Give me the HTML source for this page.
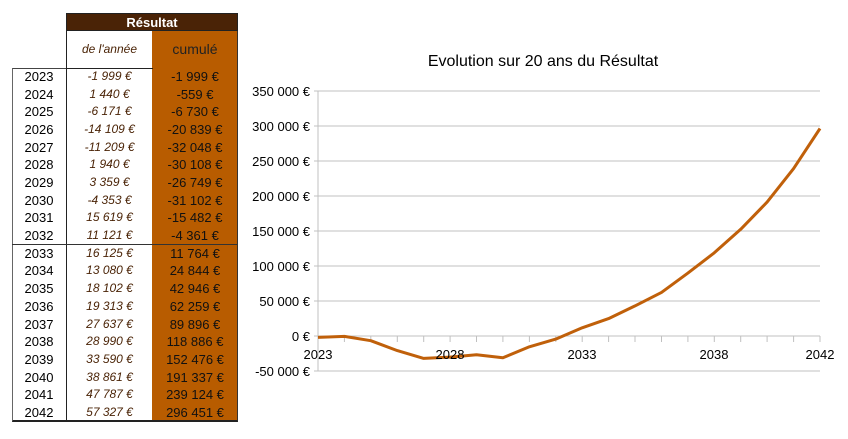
<!DOCTYPE html>
<html><head><meta charset="utf-8"><style>
body{margin:0;width:848px;height:439px;background:#fff;font-family:"Liberation Sans",sans-serif;position:relative;overflow:hidden}
.a{position:absolute}
.r{position:absolute;height:17.68px;line-height:17.68px;font-size:13px}
</style></head><body>
<div class="a" style="left:66px;top:13px;width:172px;height:18px;background:#4a2306;border:1px solid #222;box-sizing:border-box;color:#fff;font-weight:bold;font-size:13px;text-align:center;line-height:17px">Résultat</div>
<div class="a" style="left:66px;top:31px;width:87px;height:391px;border-left:1px solid #222;border-right:1px solid #222;border-bottom:2px solid #222;box-sizing:border-box"></div>
<div class="a" style="left:152px;top:31px;width:86px;height:391px;background:#b85c00;border-right:1px solid #333;border-bottom:2px solid #222;box-sizing:border-box"></div>
<div class="a" style="left:12px;top:68px;width:55px;height:354px;border-left:1px solid #666;border-top:1px solid #444;border-bottom:2px solid #222;box-sizing:border-box"></div>
<div class="a" style="left:12px;top:244px;width:226px;height:1px;background:#333"></div>
<div class="a" style="left:66px;top:68px;width:87px;height:1px;background:#222"></div>
<div class="a" style="left:66px;top:31px;width:87px;height:37px;line-height:37px;text-align:center;font-style:italic;font-size:12px;color:#4a2306">de l'année</div>
<div class="a" style="left:152px;top:31px;width:86px;height:37px;line-height:37px;text-align:center;font-size:14px;color:#222">cumulé</div>
<div id="rows"></div>
<svg class="a" style="left:0;top:0" width="848" height="439">
<text x="543" y="66" font-size="16" text-anchor="middle" fill="#000" font-family="Liberation Sans">Evolution sur 20 ans du Résultat</text>
<g stroke="#c0c0c0" stroke-width="1">
<line x1="314" y1="91" x2="820" y2="91"/><line x1="314" y1="126" x2="820" y2="126"/><line x1="314" y1="161" x2="820" y2="161"/><line x1="314" y1="196" x2="820" y2="196"/><line x1="314" y1="231" x2="820" y2="231"/><line x1="314" y1="266" x2="820" y2="266"/><line x1="314" y1="301" x2="820" y2="301"/><line x1="314" y1="336" x2="820" y2="336"/><line x1="314" y1="371" x2="820" y2="371"/>
<line x1="318" y1="91" x2="318" y2="371"/>
</g>
<g stroke="#c0c0c0"><line x1="344.4" y1="336" x2="344.4" y2="342"/><line x1="370.8" y1="336" x2="370.8" y2="342"/><line x1="397.3" y1="336" x2="397.3" y2="342"/><line x1="423.7" y1="336" x2="423.7" y2="342"/><line x1="450.1" y1="336" x2="450.1" y2="342"/><line x1="476.5" y1="336" x2="476.5" y2="342"/><line x1="502.9" y1="336" x2="502.9" y2="342"/><line x1="529.4" y1="336" x2="529.4" y2="342"/><line x1="555.8" y1="336" x2="555.8" y2="342"/><line x1="582.2" y1="336" x2="582.2" y2="342"/><line x1="608.6" y1="336" x2="608.6" y2="342"/><line x1="635" y1="336" x2="635" y2="342"/><line x1="661.5" y1="336" x2="661.5" y2="342"/><line x1="687.9" y1="336" x2="687.9" y2="342"/><line x1="714.3" y1="336" x2="714.3" y2="342"/><line x1="740.7" y1="336" x2="740.7" y2="342"/><line x1="767.1" y1="336" x2="767.1" y2="342"/><line x1="793.6" y1="336" x2="793.6" y2="342"/><line x1="820" y1="336" x2="820" y2="342"/></g>
<g font-size="13" fill="#000" text-anchor="end" font-family="Liberation Sans">
<text x="310" y="96">350 000 €</text><text x="310" y="131">300 000 €</text><text x="310" y="166">250 000 €</text><text x="310" y="201">200 000 €</text><text x="310" y="236">150 000 €</text><text x="310" y="271">100 000 €</text><text x="310" y="306">50 000 €</text><text x="310" y="341">0 €</text><text x="310" y="376">-50 000 €</text>
</g>
<polyline fill="none" stroke="#c0600a" stroke-width="3" stroke-linejoin="round" points="318,337.4 344.4,336.4 370.8,340.7 397.3,350.6 423.7,358.4 450.1,357.1 476.5,354.7 502.9,357.8 529.4,346.8 555.8,339.1 582.2,327.8 608.6,318.6 635,305.9 661.5,292.4 687.9,273.1 714.3,252.8 740.7,229.3 767.1,202.1 793.6,168.6 820,128.5"/>
<g font-size="13" fill="#000" text-anchor="middle" font-family="Liberation Sans">
<text x="318" y="359">2023</text><text x="450" y="359">2028</text><text x="582" y="359">2033</text><text x="714" y="359">2038</text><text x="820" y="359">2042</text>
</g>
</svg>
<script>
var a=["-1 999 €","1 440 €","-6 171 €","-14 109 €","-11 209 €","1 940 €","3 359 €","-4 353 €","15 619 €","11 121 €","16 125 €","13 080 €","18 102 €","19 313 €","27 637 €","28 990 €","33 590 €","38 861 €","47 787 €","57 327 €"];
var c=["-1 999 €","-559 €","-6 730 €","-20 839 €","-32 048 €","-30 108 €","-26 749 €","-31 102 €","-15 482 €","-4 361 €","11 764 €","24 844 €","42 946 €","62 259 €","89 896 €","118 886 €","152 476 €","191 337 €","239 124 €","296 451 €"];
var h="";
for(var i=0;i<20;i++){var t=68+i*17.68;
h+='<div class="r" style="left:12px;width:54px;top:'+t+'px;text-align:center;color:#000">'+(2023+i)+'</div>';
h+='<div class="r" style="left:66px;width:87px;top:'+t+'px;text-align:center;font-style:italic;font-size:12px;color:#4a2306">'+a[i]+'</div>';
h+='<div class="r" style="left:152px;width:86px;top:'+t+'px;text-align:center;color:#111">'+c[i]+'</div>';}
document.getElementById("rows").innerHTML=h;
</script>
</body></html>
